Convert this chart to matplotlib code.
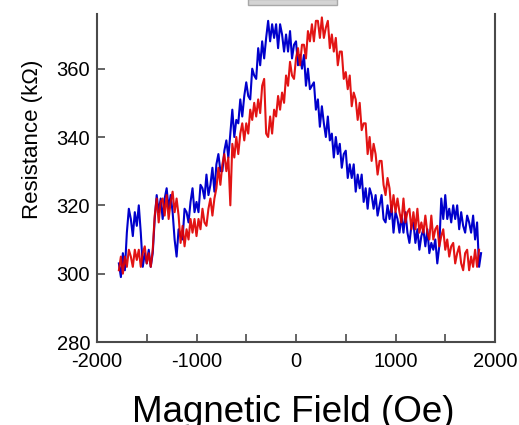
import numpy as np
import matplotlib
matplotlib.use("Agg")
import matplotlib.pyplot as plt
from matplotlib.patches import Rectangle

plt.rcParams['font.family'] = ['Liberation Sans', 'DejaVu Sans']
plt.rcParams['axes.unicode_minus'] = False

# field sweep (Oe), 20 Oe steps
field_blue = np.arange(-1780, 1861, 20)
field_red = np.arange(-1780, 1841, 20)

# resistance (kOhm)
res_blue = [
    303, 299, 306, 301, 312, 319, 316, 311, 318, 314,
    320, 312, 302, 306, 303, 307, 302, 306, 316, 323,
    318, 322, 316, 322, 325, 319, 323, 318, 310, 305,
    313, 311, 310, 319, 318, 315, 321, 325, 318, 321,
    318, 326, 325, 322, 329, 323, 326, 331, 324, 332,
    335, 330, 330, 336, 339, 334, 341, 348, 340, 345,
    344, 351, 346, 352, 356, 352, 351, 360, 358, 357,
    366, 361, 368, 363, 369, 374, 368, 373, 369, 373,
    366, 373, 370, 365, 370, 365, 371, 363, 367, 368,
    361, 364, 360, 364, 355, 360, 354, 355, 356, 348,
    351, 343, 349, 344, 340, 346, 339, 341, 334, 340,
    335, 338, 331, 335, 336, 328, 332, 328, 332, 324,
    329, 325, 329, 321, 325, 319, 325, 323, 319, 323,
    317, 320, 323, 316, 315, 320, 316, 320, 312, 318,
    316, 312, 317, 312, 318, 312, 309, 314, 315, 309,
    313, 307, 311, 313, 308, 313, 306, 309, 307, 310,
    303, 308, 322, 316, 323, 316, 319, 315, 320, 316,
    320, 313, 318, 314, 312, 317, 315, 312, 317, 310,
    315, 302, 306,
]

res_red = [
    301, 305, 300, 305, 302, 307, 305, 302, 307, 304,
    307, 302, 306, 308, 303, 306, 302, 307, 317, 322,
    315, 321, 322, 317, 323, 316, 321, 324, 318, 322,
    317, 309, 314, 308, 313, 310, 316, 312, 316, 311,
    316, 313, 319, 315, 314, 319, 322, 317, 322, 325,
    331, 326, 332, 335, 330, 334, 320, 338, 334, 340,
    335, 341, 344, 339, 344, 341, 348, 345, 350, 346,
    351, 347, 355, 357, 341, 340, 346, 341, 348, 346,
    352, 348, 353, 350, 358, 355, 362, 358, 357, 363,
    366, 361, 367, 367, 363, 371, 368, 373, 368, 374,
    374, 369, 375, 369, 372, 374, 366, 370, 365, 369,
    361, 365, 365, 357, 359, 354, 358, 349, 353, 351,
    345, 350, 342, 344, 344, 335, 340, 333, 338, 335,
    329, 333, 333, 326, 323, 328, 325, 318, 323, 318,
    322, 318, 315, 322, 315, 318, 319, 313, 318, 313,
    319, 312, 315, 312, 317, 312, 310, 317, 310, 313,
    314, 308, 311, 313, 307, 310, 305, 308, 309, 303,
    306, 308, 303, 301, 306, 307, 301, 305, 302, 307,
    302, 307,
]

x_ticks = [-2000, -1000, 0, 1000, 2000]
x_minor = [-1500, -500, 500, 1500]
y_ticks = [280, 300, 320, 340, 360]

W, H = 519, 425
fig = plt.figure(figsize=(W / 100, H / 100), dpi=100)
ax = fig.add_axes([97 / W, 1 - 342 / H, 398 / W, 328 / H])

ax.plot(field_blue, res_blue, color="#0000cc", lw=1.5)
ax.plot(field_red, res_red, color="#e00000", lw=1.5, alpha=0.92)

ax.set_xlim(-2000, 2000)
ax.set_ylim(280, 376)
ax.set_xticks(x_ticks)
ax.set_xticks(x_minor, minor=True)
ax.set_yticks(y_ticks)

spine_col = "#4a4a4a"
ax.spines["top"].set_visible(False)
for s in ["left", "right", "bottom"]:
    ax.spines[s].set_color(spine_col)
    ax.spines[s].set_linewidth(1.5)

ax.tick_params(axis="both", which="both", direction="in", length=6,
               width=1.2, color=spine_col, labelsize=14.5, pad=5)
ax.tick_params(axis="x", which="both", pad=7)
ax.tick_params(axis="y", right=False)

ax.set_ylabel("Resistance (k\u03a9)", fontsize=16)
ax.yaxis.label.set_va("center")
ax.yaxis.set_label_coords(-0.161, 0.619)

ax.set_xlabel("Magnetic Field (Oe)", fontsize=26.5)
ax.xaxis.label.set_va("baseline")
ax.xaxis.set_label_coords(0.492, -0.244)

# grey strip cut off at the top edge
fig.patches.append(Rectangle((248 / W, 1 - 5 / H), 89 / W, 6 / H,
                             transform=fig.transFigure, facecolor="#d4d4d4",
                             edgecolor="#a8a8a8", lw=1))

fig.savefig("out.png", dpi=100)
